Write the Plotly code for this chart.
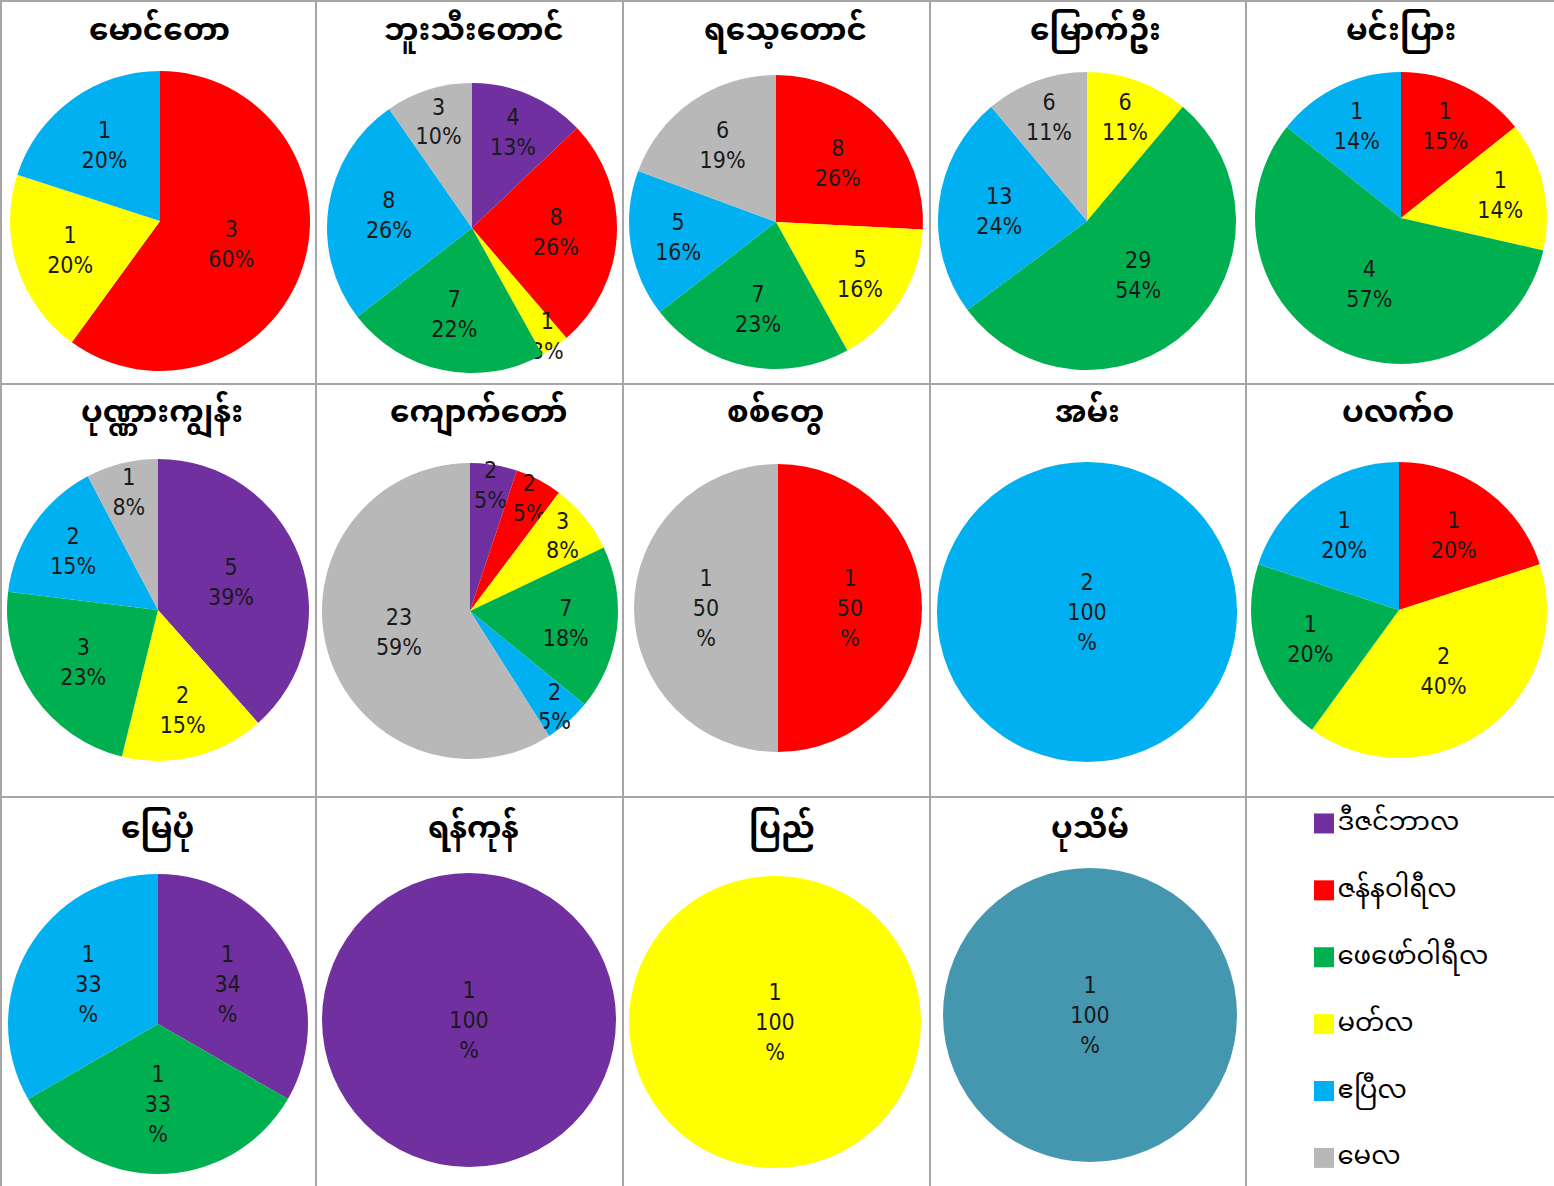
import plotly.graph_objects as go

W, H = 1554, 1186

# ---------------- data ----------------
MONTHS = ["ဒီဇင်ဘာလ", "ဇန်နဝါရီလ", "ဖေဖော်ဝါရီလ", "မတ်လ", "ဧပြီလ", "မေလ"]
MONTH_COLORS = ["#7030A0", "#FF0000", "#00B050", "#FFFF00", "#00B0F0", "#B8B8B8"]
# order in which slices run clockwise from 12 o'clock (indices into MONTHS)
SLICE_ORDER = [0, 1, 3, 2, 4, 5]

TOWNSHIPS = ["မောင်တော", "ဘူးသီးတောင်", "ရသေ့တောင်", "မြောက်ဦး", "မင်းပြား",
             "ပုဏ္ဏားကျွန်း", "ကျောက်တော်", "စစ်တွေ", "အမ်း", "ပလက်ဝ",
             "မြေပုံ", "ရန်ကုန်", "ပြည်"]

# counts per township, in MONTHS order
COUNTS = [
    [0, 3, 0, 1, 1, 0],
    [4, 8, 7, 1, 8, 3],
    [0, 8, 7, 5, 5, 6],
    [0, 0, 29, 6, 13, 6],
    [0, 1, 4, 1, 1, 0],
    [5, 0, 3, 2, 2, 1],
    [2, 2, 7, 3, 2, 23],
    [0, 1, 0, 0, 0, 1],
    [0, 0, 0, 0, 2, 0],
    [0, 1, 1, 2, 1, 0],
    [1, 0, 1, 0, 1, 0],
    [1, 0, 0, 0, 0, 0],
    [0, 0, 0, 1, 0, 0],
]
# percent labels as printed, in MONTHS order
PERCENTS = [
    [0, 60, 0, 20, 20, 0],
    [13, 26, 22, 3, 26, 10],
    [0, 26, 23, 16, 16, 19],
    [0, 0, 54, 11, 24, 11],
    [0, 15, 57, 14, 14, 0],
    [39, 0, 23, 15, 15, 8],
    [5, 5, 18, 8, 5, 59],
    [0, 50, 0, 0, 0, 50],
    [0, 0, 0, 0, 100, 0],
    [0, 20, 20, 40, 20, 0],
    [34, 0, 33, 0, 33, 0],
    [100, 0, 0, 0, 0, 0],
    [0, 0, 0, 100, 0, 0],
]
# separate single-slice chart (colour not in legend)
EXTRA_TOWNSHIP = "ပုသိမ်"
EXTRA_COUNT = [1]
EXTRA_PERCENT = [100]
EXTRA_COLOR = "#4597B0"

# labels where the percent wraps onto two lines
WRAPPED = {"စစ်တွေ", "အမ်း", "မြေပုံ", "ရန်ကုန်", "ပြည်", "ပုသိမ်"}

# ---------------- layout (pixel geometry) ----------------
# pie centre x, centre y, radius (px)
PIE_GEOM = [
    (160, 221, 150), (472, 228, 145), (776, 222, 147), (1087, 221, 149), (1401, 218, 146),
    (158, 610, 151), (470, 611, 148), (778, 608, 144), (1087, 612, 150), (1399, 610, 148),
    (158, 1024, 150), (469, 1020, 147), (775, 1022, 146), (1090, 1015, 147),
]
TITLE_POS = [
    (159, 33), (474, 33), (785, 33), (1095, 33), (1401, 33),
    (162, 415), (479, 415), (775, 415), (1087, 415), (1398, 415),
    (157, 831), (473, 831), (782, 831), (1090, 831),
]
VLINES = [1, 316, 623, 930, 1246]
HLINES = [1, 384, 797]

LABEL_FONT = dict(family="DejaVu Sans Condensed, DejaVu Sans, sans-serif", size=23, color="#1a1a1a")
TITLE_FONT = dict(family="Noto Sans Myanmar, Padauk, Myanmar Text, Noto Sans, sans-serif", size=31, color="#000000")


def px_dom(cx, cy, r):
    return dict(x=[(cx - r) / W, (cx + r) / W], y=[1 - (cy + r) / H, 1 - (cy - r) / H])


def label(v, p, wrap):
    return f"{v}<br>{p}<br>%" if wrap else f"{v}<br>{p}%"


fig = go.Figure()

for i, name in enumerate(TOWNSHIPS):
    labels, values, texts, colors = [], [], [], []
    for k in SLICE_ORDER:
        if COUNTS[i][k] > 0:
            labels.append(MONTHS[k])
            values.append(COUNTS[i][k])
            texts.append(label(COUNTS[i][k], PERCENTS[i][k], name in WRAPPED))
            colors.append(MONTH_COLORS[k])
    cx, cy, r = PIE_GEOM[i]
    fig.add_trace(go.Pie(
        labels=labels, values=values, text=texts, texttemplate="%{text}",
        textposition="inside", insidetextorientation="horizontal",
        textfont=LABEL_FONT, sort=False, direction="clockwise", rotation=0,
        marker=dict(colors=colors, line=dict(width=0)),
        domain=px_dom(cx, cy, r), showlegend=False, hoverinfo="skip",
    ))

cx, cy, r = PIE_GEOM[len(TOWNSHIPS)]
fig.add_trace(go.Pie(
    labels=[EXTRA_TOWNSHIP], values=EXTRA_COUNT,
    text=[label(EXTRA_COUNT[0], EXTRA_PERCENT[0], EXTRA_TOWNSHIP in WRAPPED)],
    texttemplate="%{text}", textposition="inside", insidetextorientation="horizontal",
    textfont=LABEL_FONT, sort=False, direction="clockwise",
    marker=dict(colors=[EXTRA_COLOR], line=dict(width=0)),
    domain=px_dom(cx, cy, r), showlegend=False, hoverinfo="skip",
))

# legend drawn as a categorical scatter in the last cell
fig.add_trace(go.Scatter(
    x=[0] * len(MONTHS), y=MONTHS, mode="markers+text", text=MONTHS,
    textposition="middle right",
    textfont=dict(family=TITLE_FONT["family"], size=26, color="#000000"),
    marker=dict(symbol="square", size=20, color=MONTH_COLORS, line=dict(width=0)),
    showlegend=False, hoverinfo="skip", cliponaxis=False,
))

all_titles = TOWNSHIPS + [EXTRA_TOWNSHIP]
annotations = []
for t, (tx, ty) in zip(all_titles, TITLE_POS):
    annotations.append(dict(text=f"<b>{t}</b>", x=tx / W, y=1 - ty / H, xref="paper", yref="paper",
                            showarrow=False, xanchor="center", yanchor="middle", font=TITLE_FONT))

shapes = []
for x in VLINES:
    shapes.append(dict(type="line", xref="paper", yref="paper", x0=x / W, x1=x / W, y0=0, y1=1,
                       line=dict(color="#A6A6A6", width=2)))
for y in HLINES:
    shapes.append(dict(type="line", xref="paper", yref="paper", x0=0, x1=1, y0=1 - y / H, y1=1 - y / H,
                       line=dict(color="#A6A6A6", width=2)))

fig.update_layout(
    width=W, height=H, margin=dict(l=0, r=0, t=0, b=0),
    paper_bgcolor="white", plot_bgcolor="rgba(0,0,0,0)",
    annotations=annotations, shapes=shapes,
    uniformtext=dict(minsize=23, mode="show"),
    xaxis=dict(domain=[1314 / W, 1], range=[-0.1, 2.3], visible=False, fixedrange=True),
    yaxis=dict(domain=[0, 1 - 790 / H], range=[5.42, -0.5], visible=False, type="category", fixedrange=True),
)

fig.write_html("out.html", config={"displayModeBar": False},
               post_script="document.body.style.margin='0';")
